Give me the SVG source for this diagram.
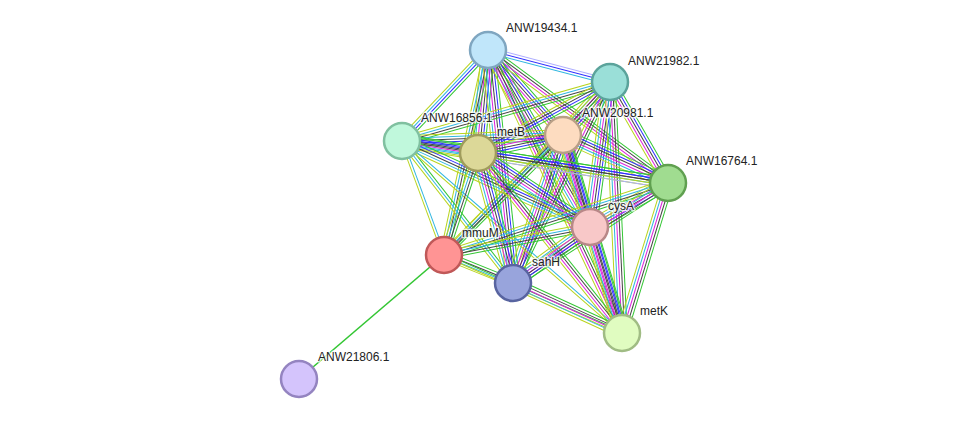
<svg xmlns="http://www.w3.org/2000/svg" xmlns:xlink="http://www.w3.org/1999/xlink" width="976" height="424" viewBox="0 0 976 424">
<style>
.e path{fill:none;stroke-width:1.6}
.g{stroke:#33c633}.b{stroke:#2f2fff}.k{stroke:#444}.m{stroke:#dd22dd}.c{stroke:#2fb6e0}.y{stroke:#b8d41e}.p{stroke:#aeaeff}
.n circle{stroke-width:2.5}
.n text{font-family:"Liberation Sans",Arial,sans-serif;font-size:12px;fill:#222;stroke:#fff;stroke-width:3;stroke-opacity:.75;paint-order:stroke;stroke-linejoin:round}
</style>
<defs>
<g id="bcp"><path class="p" d="M0-2.6H1"/><path class="b" d="M0 0H1"/><path class="c" d="M0 2.6H1"/></g>
<g id="gbkmy"><path class="g" d="M0-5.2H1"/><path class="b" d="M0-2.6H1"/><path class="k" d="M0 0H1"/><path class="m" d="M0 2.6H1"/><path class="y" d="M0 5.2H1"/></g>
<g id="gbcy"><path class="g" d="M0-3.9H1"/><path class="b" d="M0-1.3H1"/><path class="c" d="M0 1.3H1"/><path class="y" d="M0 3.9H1"/></g>
<g id="gbkmcy"><path class="g" d="M0-6.5H1"/><path class="b" d="M0-3.9H1"/><path class="k" d="M0-1.3H1"/><path class="m" d="M0 1.3H1"/><path class="c" d="M0 3.9H1"/><path class="y" d="M0 6.5H1"/></g>
<g id="gkmy"><path class="g" d="M0-3.9H1"/><path class="k" d="M0-1.3H1"/><path class="m" d="M0 1.3H1"/><path class="y" d="M0 3.9H1"/></g>
<g id="gkcy"><path class="g" d="M0-3.9H1"/><path class="k" d="M0-1.3H1"/><path class="c" d="M0 1.3H1"/><path class="y" d="M0 3.9H1"/></g>
<g id="gky"><path class="g" d="M0-2.6H1"/><path class="k" d="M0 0H1"/><path class="y" d="M0 2.6H1"/></g>
<g id="gkmcy"><path class="g" d="M0-5.2H1"/><path class="k" d="M0-2.6H1"/><path class="m" d="M0 0H1"/><path class="c" d="M0 2.6H1"/><path class="y" d="M0 5.2H1"/></g>
<g id="gbkcy"><path class="g" d="M0-5.2H1"/><path class="b" d="M0-2.6H1"/><path class="k" d="M0 0H1"/><path class="c" d="M0 2.6H1"/><path class="y" d="M0 5.2H1"/></g>
<g id="gbky"><path class="g" d="M0-3.9H1"/><path class="b" d="M0-1.3H1"/><path class="k" d="M0 1.3H1"/><path class="y" d="M0 3.9H1"/></g>
<g id="cy"><path class="c" d="M0-1.3H1"/><path class="y" d="M0 1.3H1"/></g>
<g id="gcy"><path class="g" d="M0-2.6H1"/><path class="c" d="M0 0H1"/><path class="y" d="M0 2.6H1"/></g>
<g id="gbkyp"><path class="g" d="M0-5.2H1"/><path class="b" d="M0-2.6H1"/><path class="k" d="M0 0H1"/><path class="y" d="M0 2.6H1"/><path class="p" d="M0 5.2H1"/></g>
<g id="gy"><path class="g" d="M0-1.3H1"/><path class="y" d="M0 1.3H1"/></g>
</defs>
<rect width="976" height="424" fill="#fff"/>
<g id="connectors" class="e">
<use href="#bcp" transform="matrix(122 32 -.2537 .9673 488 50)"/>
<use href="#gbkmy" transform="matrix(75 85 -.7498 .6616 488 50)"/>
<use href="#gbcy" transform="matrix(-86 91 -.7268 -.6868 488 50)"/>
<use href="#gbkmcy" transform="matrix(-10 103 -.9953 -.0966 488 50)"/>
<use href="#gkmy" transform="matrix(180 133 -.5943 .8043 488 50)"/>
<use href="#gbkmcy" transform="matrix(102 177 -.8664 .4993 488 50)"/>
<use href="#gkcy" transform="matrix(-44 205 -.9777 -.2099 488 50)"/>
<use href="#gbkmcy" transform="matrix(25 233 -.9943 .1067 488 50)"/>
<use href="#gkmy" transform="matrix(134 283 -.9038 .428 488 50)"/>
<use href="#gbkmcy" transform="matrix(-47 53 -.7482 -.6635 610 82)"/>
<use href="#gkcy" transform="matrix(-208 59 -.2729 -.962 610 82)"/>
<use href="#gbky" transform="matrix(-132 71 -.4737 -.8807 610 82)"/>
<use href="#gbkmy" transform="matrix(58 101 -.8672 .498 610 82)"/>
<use href="#gbkmcy" transform="matrix(-20 145 -.9906 -.1366 610 82)"/>
<use href="#gky" transform="matrix(-166 173 -.7216 -.6924 610 82)"/>
<use href="#gkmy" transform="matrix(-97 201 -.9006 -.4346 610 82)"/>
<use href="#gkmcy" transform="matrix(12 251 -.9988 .0478 610 82)"/>
<use href="#gbkcy" transform="matrix(-161 6 -.0372 -.9993 563 135)"/>
<use href="#gbkmy" transform="matrix(-85 18 -.2072 -.9783 563 135)"/>
<use href="#gbkmcy" transform="matrix(105 48 -.4158 .9095 563 135)"/>
<use href="#gbkmcy" transform="matrix(27 92 -.9595 .2816 563 135)"/>
<use href="#gkcy" transform="matrix(-119 120 -.7101 -.7041 563 135)"/>
<use href="#gbkmcy" transform="matrix(-50 148 -.9474 -.3201 563 135)"/>
<use href="#gbkmy" transform="matrix(59 198 -.9584 .2856 563 135)"/>
<use href="#gbkmcy" transform="matrix(76 12 -.156 .9878 402 141)"/>
<use href="#gbkcy" transform="matrix(266 42 -.156 .9878 402 141)"/>
<use href="#gbkcy" transform="matrix(188 86 -.416 .9094 402 141)"/>
<use href="#cy" transform="matrix(42 114 -.9383 .3457 402 141)"/>
<use href="#gcy" transform="matrix(111 142 -.7878 .6158 402 141)"/>
<use href="#cy" transform="matrix(220 192 -.6575 .7534 402 141)"/>
<use href="#gbkyp" transform="matrix(190 30 -.156 .9878 478 153)"/>
<use href="#gbkmcy" transform="matrix(112 74 -.5513 .8343 478 153)"/>
<use href="#gkcy" transform="matrix(-34 102 -.9487 -.3162 478 153)"/>
<use href="#gbkmcy" transform="matrix(35 130 -.9656 .26 478 153)"/>
<use href="#gkmy" transform="matrix(144 180 -.7809 .6247 478 153)"/>
<use href="#gbkmcy" transform="matrix(-78 44 -.4913 -.871 668 183)"/>
<use href="#gkcy" transform="matrix(-224 72 -.306 -.952 668 183)"/>
<use href="#gkmcy" transform="matrix(-155 100 -.5421 -.8403 668 183)"/>
<use href="#gkmcy" transform="matrix(-46 150 -.9561 -.2932 668 183)"/>
<use href="#gkcy" transform="matrix(-146 28 -.1883 -.9821 590 227)"/>
<use href="#gbkmcy" transform="matrix(-77 56 -.5882 -.8087 590 227)"/>
<use href="#gbkmcy" transform="matrix(32 106 -.9574 .289 590 227)"/>
<use href="#gkcy" transform="matrix(69 28 -.376 .9267 444 255)"/>
<use href="#gy" transform="matrix(178 78 -.4014 .9159 444 255)"/>
<use href="#gkmcy" transform="matrix(109 50 -.417 .9089 513 283)"/>
<path class="g" d="M444 255L299 379"/>
</g>
<g id="ANW19434.1" class="n"><circle cx="488" cy="50" r="18" fill="#c0e6fa" stroke="#7fa6c0"/><text x="506" y="32">ANW19434.1</text></g>
<g id="ANW21982.1" class="n"><circle cx="610" cy="82" r="18" fill="#9adfd8" stroke="#5ba39b"/><text x="628" y="65">ANW21982.1</text></g>
<g id="ANW20981.1" class="n"><circle cx="563" cy="135" r="18" fill="#fddcc0" stroke="#b89f86"/><text x="582" y="117">ANW20981.1</text></g>
<g id="ANW16856.1" class="n"><circle cx="402" cy="141" r="18" fill="#c0f8dc" stroke="#80c0a0"/><text x="421" y="122">ANW16856.1</text></g>
<g id="metB" class="n"><circle cx="478" cy="153" r="18" fill="#dcd898" stroke="#a09c5c"/><text x="497" y="136">metB</text></g>
<g id="ANW16764.1" class="n"><circle cx="668" cy="183" r="18" fill="#a0dc90" stroke="#60a050"/><text x="686" y="165">ANW16764.1</text></g>
<g id="cysA" class="n"><circle cx="590" cy="227" r="18" fill="#f8c8c8" stroke="#b88888"/><text x="608" y="210">cysA</text></g>
<g id="mmuM" class="n"><circle cx="444" cy="255" r="18" fill="#ff9494" stroke="#c05858"/><text x="462" y="237">mmuM</text></g>
<g id="sahH" class="n"><circle cx="513" cy="283" r="18" fill="#98a4dc" stroke="#5864a0"/><text x="532" y="266">sahH</text></g>
<g id="metK" class="n"><circle cx="622" cy="333" r="18" fill="#e0fcc0" stroke="#a0bc84"/><text x="640" y="315">metK</text></g>
<g id="ANW21806.1" class="n"><circle cx="299" cy="379" r="18" fill="#d4c4fc" stroke="#9484c0"/><text x="318" y="361">ANW21806.1</text></g>
</svg>
